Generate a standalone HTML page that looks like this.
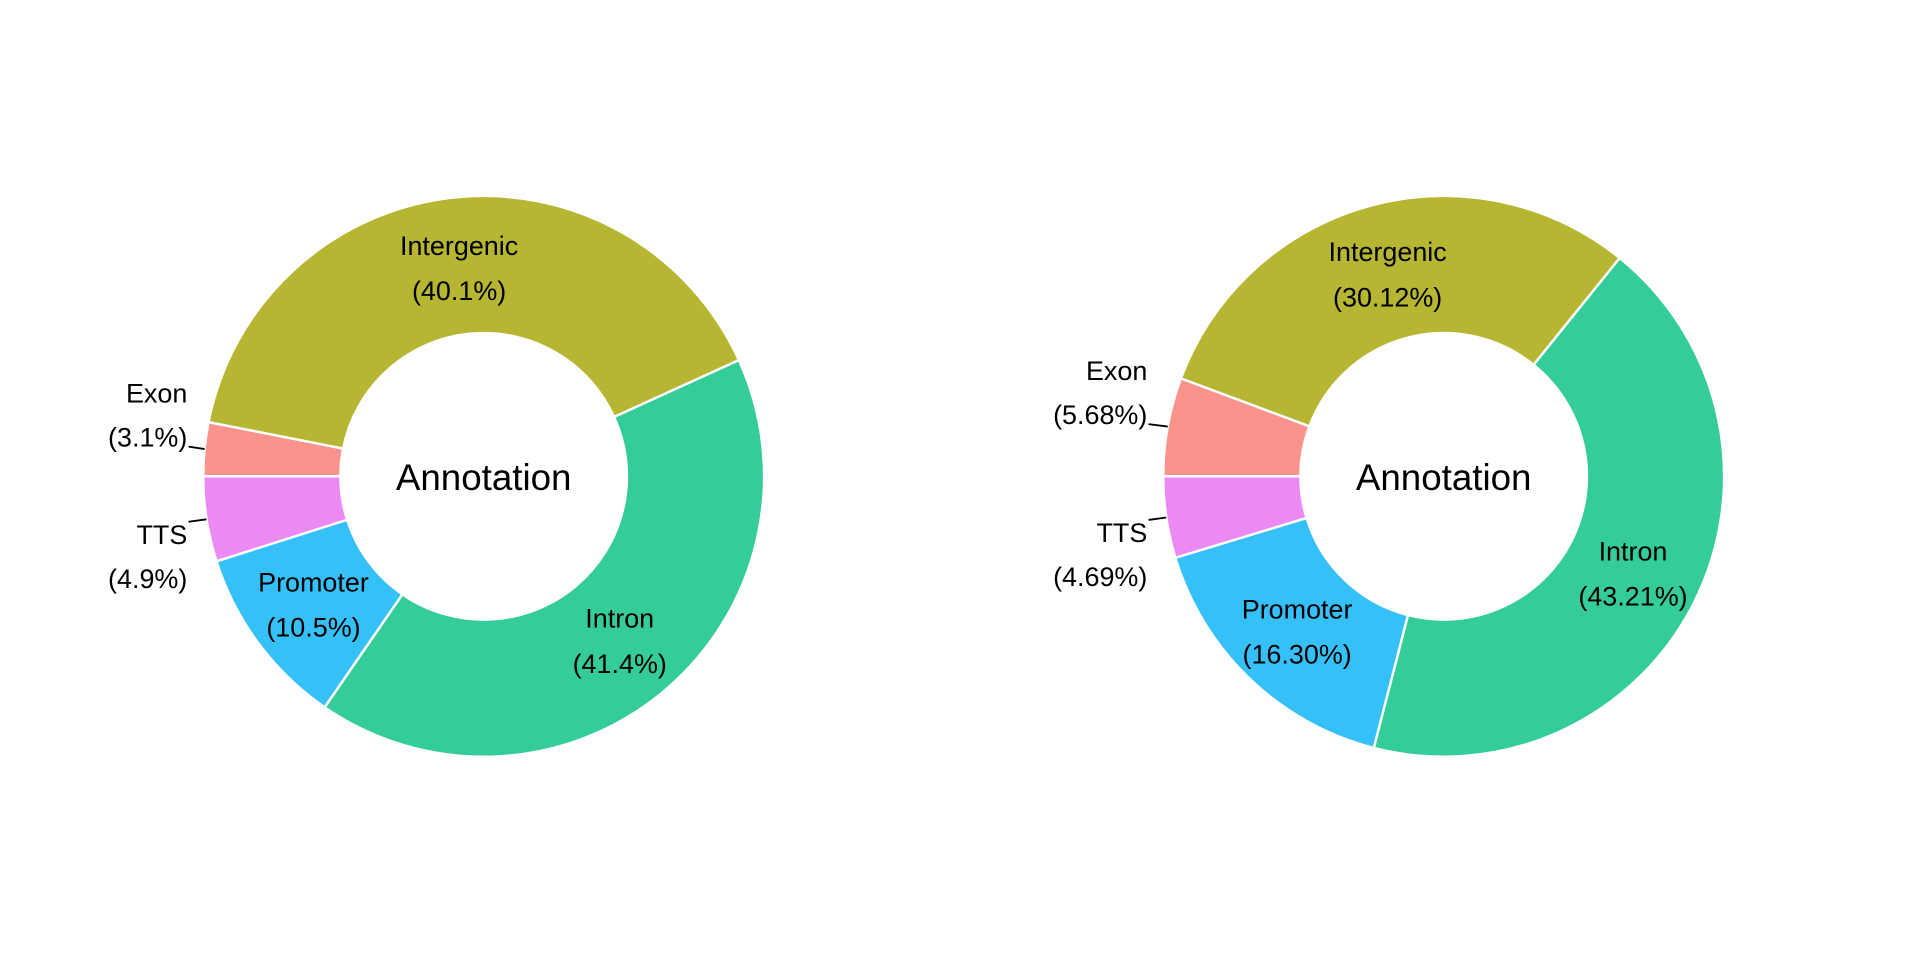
<!DOCTYPE html>
<html><head><meta charset="utf-8"><style>
html,body{margin:0;padding:0;background:#fff}
svg{display:block}
text{font-family:"Liberation Sans",Arial,sans-serif;fill:#000}
</style></head><body>
<svg id="chart" width="1920" height="960" viewBox="0 0 1568 784" xmlns="http://www.w3.org/2000/svg"></svg>
<script>
const categories = ["Exon","Intergenic","Intron","Promoter","TTS"];
const valuesLeft = [3.1, 40.1, 41.4, 10.5, 4.9];
const labelsLeft = ["(3.1%)","(40.1%)","(41.4%)","(10.5%)","(4.9%)"];
const valuesRight = [5.68, 30.12, 43.21, 16.30, 4.69];
const labelsRight = ["(5.68%)","(30.12%)","(43.21%)","(16.30%)","(4.69%)"];
const colors = ["#F9938C","#B6B632","#34CC97","#36C0F8","#EB8AF5"];
const outsideCats = ["Exon","TTS"];

const svg = document.getElementById('chart');
const NS = "http://www.w3.org/2000/svg";
const R = 229, r = 117;
function pt(cx, cy, rad, th){
  const a = th*Math.PI/180;
  return [cx - rad*Math.cos(a), cy - rad*Math.sin(a)];
}
function mk(tag, attrs){ const e=document.createElementNS(NS,tag); for(const k in attrs) e.setAttribute(k,attrs[k]); return e; }

function drawDonut(cx, cy, values, labels, id){
  const g = mk('g',{});
  
  
  svg.appendChild(g);
  const total = values.reduce((a,b)=>a+b,0);
  let start = 0;
  values.forEach((v,i)=>{
    const span = v/total*360;
    const end = start+span;
    const [x1,y1]=pt(cx,cy,R,start),[x2,y2]=pt(cx,cy,R,end);
    const [x3,y3]=pt(cx,cy,r,end),[x4,y4]=pt(cx,cy,r,start);
    const large = span>180?1:0;
    const p = mk('path',{d:`M${x1},${y1} A${R},${R} 0 ${large} 1 ${x2},${y2} L${x3},${y3} A${r},${r} 0 ${large} 0 ${x4},${y4} Z`,fill:colors[i],stroke:'#fff','stroke-width':2});
    
    
    g.appendChild(p);
    const mid = start+span/2;
    if(outsideCats.includes(categories[i])){
      const [lx1,ly1]=pt(cx,cy,R,mid);
      const above = ly1<cy;
      const lx2 = cx-R-12, ly2 = ly1 + (above? -2 : 2);
      const ln = mk('line',{x1:lx1,y1:ly1,x2:lx2,y2:ly2,stroke:'#000','stroke-width':1.5});
      
      
      g.appendChild(ln);
      const tx = lx2-1;
      const t = mk('text',{x:tx,'font-size':22,'text-anchor':'end'});
      
      
      const yTop = above ? ly2-37 : ly2+17;
      const t1 = mk('tspan',{x:tx,y:yTop+1}); t1.textContent=categories[i];
      const t2 = mk('tspan',{x:tx,y:yTop+37}); t2.textContent=labels[i];
      t.appendChild(t1); t.appendChild(t2); g.appendChild(t);
    } else {
      const [lx,ly]=pt(cx,cy,(R+r)/2,mid);
      const t = mk('text',{x:lx,'font-size':22,'text-anchor':'middle'});
      
      
      const t1 = mk('tspan',{x:lx,y:ly-9}); t1.textContent=categories[i];
      const t2 = mk('tspan',{x:lx,y:ly+28}); t2.textContent=labels[i];
      t.appendChild(t1); t.appendChild(t2); g.appendChild(t);
    }
    start = end;
  });
  const c = mk('text',{x:cx,y:cy+11,'font-size':30,'text-anchor':'middle'});
  
  
  c.textContent='Annotation';
  g.appendChild(c);
}
drawDonut(395,389,valuesLeft,labelsLeft,'left');
drawDonut(1179,389,valuesRight,labelsRight,'right');
</script>
</body></html>
